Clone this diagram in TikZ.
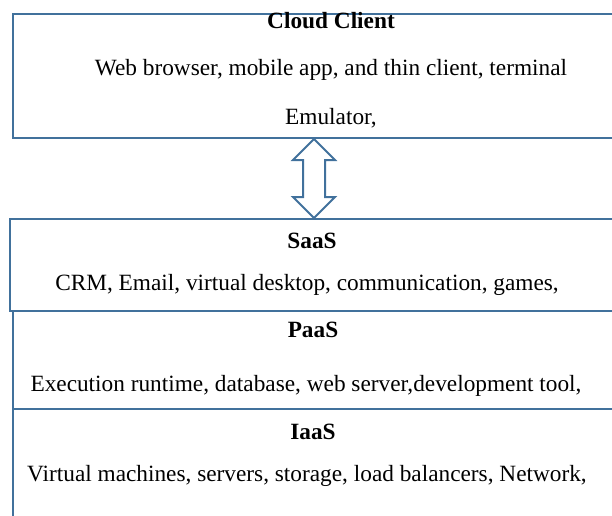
\documentclass[tikz,border=0pt]{standalone}
\usepackage{fontspec}
\setmainfont{Liberation Serif}
\usetikzlibrary{calc}
\definecolor{edge}{HTML}{41719C}
\tikzset{
  layer/.style={draw=edge, line width=2pt, rectangle, inner sep=0pt, anchor=north west},
  lbl/.style={inner sep=0pt, font=\fontsize{23.3}{26}\selectfont, text=black},
  ttl/.style={lbl, font=\fontsize{23.3}{26}\selectfont\bfseries},
  hollow/.style={draw=edge, line width=2pt, fill=white, line join=miter}
}
\begin{document}
\begin{tikzpicture}[x=1pt,y=-1pt]
\useasboundingbox (0,0) rectangle (612,515);
\node[layer, minimum width=620pt, minimum height=124pt] (cloud) at (12,13) {};
\node[layer, minimum width=620pt, minimum height=92pt] (saas) at (9,218) {};
\node[layer, minimum width=620pt, minimum height=98pt] (paas) at (12,310) {};
\node[layer, minimum width=620pt, minimum height=130pt] (iaas) at (12,408) {};

\node[ttl] (tcloud) at (331,21) {Cloud Client};
\node[lbl] (l1) at (331,70) {Web browser, mobile app, and thin client, terminal};
\node[lbl] (l2) at (331,118) {Emulator,};
\node[ttl] (tsaas) at (312,241) {SaaS};
\node[lbl] (l3) at (307,285) {CRM, Email, virtual desktop, communication, games,};
\node[ttl] (tpaas) at (313,330) {PaaS};
\node[lbl] (l4) at (306,386) {Execution runtime, database, web server,development tool,};
\node[ttl] (tiaas) at (313,432) {IaaS};
\node[lbl] (l5) at (307,476) {Virtual machines, servers, storage, load balancers, Network,};

\coordinate (tipT) at (cloud.south -| 314,0);
\coordinate (tipB) at (saas.north -| 314,0);
\draw[hollow] (tipT) -- ++(21,21) -- ++(-10,0) -- ($(tipB)+(11,-21)$) -- ++(10,0) -- (tipB)
  -- ++(-21,-21) -- ++(10,0) -- ($(tipT)+(-11,21)$) -- ++(-10,0) -- cycle;
\end{tikzpicture}
\end{document}
